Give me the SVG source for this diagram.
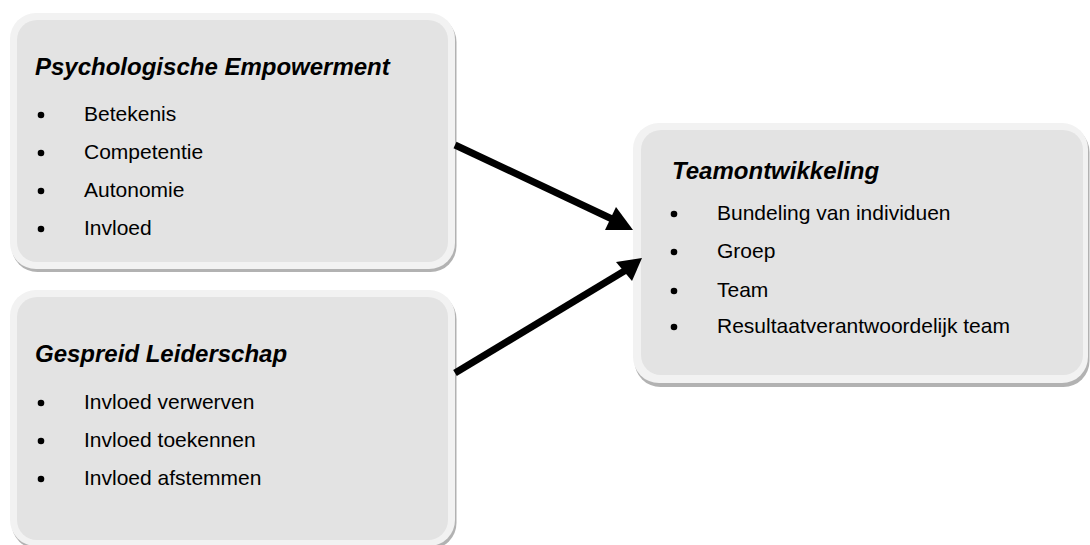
<svg xmlns="http://www.w3.org/2000/svg" width="1090" height="545" viewBox="0 0 1090 545">
<style>
.shadow{fill:#b2b2b2}
.outer{fill:#f2f2f2}
.inner{fill:#e3e3e3}
.title{font-family:"Liberation Sans",Arial,sans-serif;font-size:24px;font-weight:bold;font-style:italic;fill:#000}
.item{font-family:"Liberation Sans",Arial,sans-serif;font-size:21px;fill:#000}
.dot{fill:#000}
.conn line{stroke:#000;stroke-width:7}
.conn polygon{fill:#000}
</style>
<rect width="1090" height="545" fill="#fff"/>
<g id="psychologische-empowerment">
<rect class="shadow" x="11.5" y="16" width="445" height="256" rx="26"/>
<rect class="outer" x="10" y="13" width="445" height="256" rx="26"/>
<rect class="inner" x="17" y="20" width="431" height="242" rx="20"/>
<text class="title" x="35" y="75">Psychologische Empowerment</text>
<circle class="dot" cx="41" cy="115" r="3.3"/><text class="item" x="84" y="121">Betekenis</text>
<circle class="dot" cx="41" cy="153" r="3.3"/><text class="item" x="84" y="159">Competentie</text>
<circle class="dot" cx="41" cy="191" r="3.3"/><text class="item" x="84" y="197">Autonomie</text>
<circle class="dot" cx="41" cy="229" r="3.3"/><text class="item" x="84" y="235">Invloed</text>
</g>
<g id="gespreid-leiderschap">
<rect class="shadow" x="11.5" y="293" width="445" height="256" rx="26"/>
<rect class="outer" x="10" y="290" width="445" height="256" rx="26"/>
<rect class="inner" x="17" y="297" width="431" height="243" rx="20"/>
<text class="title" x="35" y="362">Gespreid Leiderschap</text>
<circle class="dot" cx="41" cy="403" r="3.3"/><text class="item" x="84" y="409">Invloed verwerven</text>
<circle class="dot" cx="41" cy="441" r="3.3"/><text class="item" x="84" y="447">Invloed toekennen</text>
<circle class="dot" cx="41" cy="479" r="3.3"/><text class="item" x="84" y="485">Invloed afstemmen</text>
</g>
<g id="teamontwikkeling">
<rect class="shadow" x="634.5" y="126" width="455" height="261" rx="26"/>
<rect class="outer" x="633" y="123" width="455" height="260" rx="26"/>
<rect class="inner" x="641" y="130" width="442" height="245" rx="20"/>
<text class="title" x="672" y="179">Teamontwikkeling</text>
<circle class="dot" cx="674" cy="214" r="3.3"/><text class="item" x="717" y="220">Bundeling van individuen</text>
<circle class="dot" cx="674" cy="252" r="3.3"/><text class="item" x="717" y="258">Groep</text>
<circle class="dot" cx="674" cy="291" r="3.3"/><text class="item" x="717" y="297">Team</text>
<circle class="dot" cx="674" cy="327" r="3.3"/><text class="item" x="717" y="333">Resultaatverantwoordelijk team</text>
</g>
<g id="connectors" class="conn">
<line x1="455" y1="145" x2="612" y2="219"/>
<polygon points="633,230 605,230 616,207"/>
<line x1="455" y1="373" x2="626" y2="270"/>
<polygon points="642,258 616,262 632,281"/>
</g>
</svg>
